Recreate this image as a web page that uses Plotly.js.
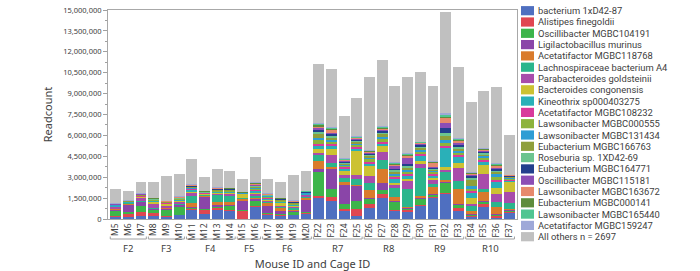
<!DOCTYPE html>
<html><head><meta charset="utf-8">
<script src="https://cdn.plot.ly/plotly-3.0.1.min.js"></script>
<style>html,body{margin:0;padding:0;background:#fff}#chart{width:700px;height:271px}</style>
</head><body><div id="chart"></div>
<script>
// ---- categories ----
const mouseIds = ["M5","M6","M7","M8","M9","M10","M11","M12","M13","M14","M15","M16","M17","M18","M19","M20",
  "F22","F23","F24","F25","F26","F27","F28","F29","F30","F31","F32","F33","F34","F35","F36","F37"];
const cageIds = ["F2","F2","F2","F3","F3","F3","F4","F4","F4","F4","F5","F5","F6","F6","F6","F6",
  "R7","R7","R7","R7","R8","R8","R8","R8","R9","R9","R9","R9","R10","R10","R10","R10"];
const cageGroups = ["F2","F3","F4","F5","F6","R7","R8","R9","R10"];

const seriesNames = ["bacterium 1xD42-87","Alistipes finegoldii","Oscillibacter MGBC104191","Ligilactobacillus murinus",
  "Acetatifactor MGBC118768","Lachnospiraceae bacterium A4","Parabacteroides goldsteinii","Bacteroides congonensis",
  "Kineothrix sp000403275","Acetatifactor MGBC108232","Lawsonibacter MGBC000555","Lawsonibacter MGBC131434",
  "Eubacterium MGBC166763","Roseburia sp. 1XD42-69","Eubacterium MGBC164771","Oscillibacter MGBC115181",
  "Lawsonibacter MGBC163672","Eubacterium MGBC000141","Lawsonibacter MGBC165440","Acetatifactor MGBC159247",
  "All others n = 2697"];
const seriesColors = ["#4f6fc0","#e04651","#3db54a","#8a45a8","#d97b2c","#2bb58c","#a84cab","#ccc232",
  "#2ab0b8","#d93a9c","#8db33b","#2e9dd4","#8f9f3b","#6cc48f","#233f8d","#8c4db5",
  "#e7896c","#5e8c3c","#50c592","#9ea8d8","#c0c0c0"];

// ---- series values (readcount per mouse) ----
const bacterium1xD4287 = [144000,144000,215000,215000,179000,287000,646000,359000,646000,574000,36000,861000,287000,215000,287000,359000,1507000,1292000,574000,215000,789000,1507000,574000,502000,933000,1507000,1794000,574000,144000,861000,108000,431000];
const alistipesFinegoldii = [72000,251000,287000,215000,36000,36000,72000,287000,108000,72000,574000,72000,72000,72000,36000,72000,144000,287000,144000,502000,287000,287000,72000,144000,72000,72000,72000,215000,72000,215000,72000,72000];
const oscillibacter104191 = [359000,72000,431000,215000,431000,574000,72000,72000,72000,287000,36000,359000,72000,72000,215000,72000,1722000,574000,359000,574000,359000,287000,574000,72000,431000,144000,718000,215000,72000,144000,72000,72000];
const ligilactobacillusMurinus = [72000,574000,287000,72000,72000,108000,72000,861000,144000,72000,646000,108000,502000,215000,72000,861000,215000,1435000,1364000,1077000,108000,502000,72000,72000,72000,72000,72000,72000,72000,72000,72000,72000];
const acetatifactor118768 = [36000,36000,36000,36000,36000,36000,287000,72000,215000,215000,144000,108000,215000,215000,72000,179000,574000,144000,215000,72000,574000,1005000,287000,72000,144000,502000,144000,1077000,215000,646000,502000,72000];
const lachnospiraceaeA4 = [36000,36000,57000,36000,36000,36000,502000,36000,502000,431000,36000,108000,72000,72000,108000,72000,431000,287000,287000,431000,502000,646000,646000,1292000,2010000,215000,574000,574000,359000,215000,359000,431000];
const parabacteroidesGoldsteinii = [108000,36000,215000,287000,108000,144000,215000,36000,72000,108000,36000,144000,72000,72000,72000,72000,144000,574000,215000,287000,502000,574000,215000,574000,287000,287000,144000,933000,144000,1077000,574000,789000];
const bacteroidesCongonensis = [36000,22000,36000,179000,144000,72000,72000,36000,72000,72000,251000,108000,72000,215000,72000,36000,287000,431000,287000,1722000,718000,431000,144000,144000,215000,144000,215000,359000,431000,646000,431000,718000];
const kineothrix000403275 = [36000,22000,36000,36000,36000,36000,108000,36000,72000,72000,22000,108000,72000,72000,57000,36000,215000,215000,144000,144000,144000,144000,287000,215000,359000,144000,1364000,431000,359000,215000,431000,72000];
const acetatifactor108232 = [36000,22000,36000,36000,36000,36000,72000,36000,57000,57000,22000,72000,72000,36000,36000,36000,144000,144000,144000,108000,144000,144000,108000,144000,144000,144000,144000,144000,144000,144000,144000,72000];
const lawsonibacter000555 = [22000,14000,22000,22000,36000,36000,57000,22000,36000,36000,14000,72000,57000,36000,36000,22000,287000,144000,72000,144000,144000,215000,108000,144000,144000,108000,215000,144000,144000,144000,215000,72000];
const lawsonibacter131434 = [22000,14000,22000,22000,22000,36000,57000,22000,36000,36000,14000,72000,57000,36000,36000,22000,144000,144000,72000,108000,108000,108000,108000,144000,144000,108000,215000,144000,215000,108000,215000,72000];
const eubacterium166763 = [22000,14000,22000,22000,22000,22000,36000,22000,36000,36000,14000,72000,36000,36000,36000,22000,287000,144000,72000,108000,108000,215000,144000,144000,108000,72000,287000,144000,431000,108000,144000,36000];
const roseburia1XD4269 = [22000,14000,22000,22000,22000,22000,36000,22000,36000,36000,14000,72000,36000,22000,36000,22000,144000,108000,72000,72000,72000,108000,144000,144000,108000,72000,215000,108000,144000,108000,108000,36000];
const eubacterium164771 = [14000,14000,14000,14000,14000,22000,36000,14000,36000,22000,14000,57000,22000,22000,36000,22000,144000,144000,72000,72000,108000,108000,108000,144000,108000,72000,359000,144000,144000,108000,108000,36000];
const oscillibacter115181 = [22000,14000,22000,22000,22000,36000,36000,22000,36000,36000,14000,72000,36000,36000,36000,22000,108000,108000,72000,72000,72000,72000,215000,431000,72000,72000,359000,144000,72000,72000,108000,36000];
const lawsonibacter163672 = [14000,14000,22000,14000,14000,22000,36000,14000,22000,22000,14000,57000,22000,22000,22000,22000,108000,179000,57000,72000,72000,72000,72000,144000,72000,287000,359000,144000,72000,72000,108000,36000];
const eubacterium000141 = [14000,7000,14000,14000,14000,22000,22000,14000,22000,22000,7000,36000,22000,14000,22000,14000,108000,72000,36000,36000,36000,72000,57000,72000,36000,36000,72000,72000,36000,36000,72000,22000];
const lawsonibacter165440 = [14000,7000,22000,14000,14000,22000,22000,14000,22000,22000,7000,36000,22000,14000,22000,14000,72000,72000,36000,36000,36000,72000,72000,72000,36000,36000,108000,72000,36000,36000,72000,22000];
const acetatifactor159247 = [14000,7000,22000,14000,14000,22000,22000,14000,22000,22000,7000,36000,22000,14000,22000,14000,108000,108000,57000,72000,72000,72000,57000,72000,36000,36000,144000,108000,72000,72000,72000,22000];
const allOthers = [1041000,689000,818000,1148000,1780000,1608000,1830000,1005000,1328000,1199000,947000,1823000,1033000,1148000,1830000,1457000,4234000,4163000,3043000,2763000,5239000,4773000,5483000,5455000,5024000,5419000,7285000,5096000,5024000,4091000,5490000,2842000];

const yTickVals = [0,1500000,3000000,4500000,6000000,7500000,9000000,10500000,12000000,13500000,15000000];

const seriesValues = [bacterium1xD4287, alistipesFinegoldii, oscillibacter104191, ligilactobacillusMurinus,
  acetatifactor118768, lachnospiraceaeA4, parabacteroidesGoldsteinii, bacteroidesCongonensis,
  kineothrix000403275, acetatifactor108232, lawsonibacter000555, lawsonibacter131434,
  eubacterium166763, roseburia1XD4269, eubacterium164771, oscillibacter115181,
  lawsonibacter163672, eubacterium000141, lawsonibacter165440, acetatifactor159247, allOthers];

// ---- layout geometry (pixels) ----
const W = 700, H = 271, L = 108, R = 517, T = 10, B = 219;
const px2x = px => (px - L) / (R - L);
const py2y = py => (B - py) / (B - T);
const FONT = '"Segoe UI", "Noto Sans", "Open Sans", sans-serif';
const LEGFONT = 'Roboto, "Segoe UI", sans-serif';
const TXT = '#404040';

const traces = seriesNames.map((name, i) => ({
  type: 'bar', name: name, x: mouseIds, y: seriesValues[i],
  marker: {color: seriesColors[i], line: {width: 0}},
  showlegend: false, hoverinfo: 'x+y+name'
}));

const shapes = [];
const annotations = [];

// cage group brackets under the mouse labels
cageGroups.forEach(g => {
  const idx = cageIds.map((c, i) => c === g ? i : -1).filter(i => i >= 0);
  const a = idx[0] - 0.42, b = idx[idx.length - 1] + 0.42;
  const yl = py2y(239), yt = py2y(236.5);
  shapes.push({type: 'path', xref: 'x', yref: 'paper',
    path: `M ${a} ${yt} L ${a} ${yl} L ${b} ${yl} L ${b} ${yt}`,
    line: {color: '#a0a0a0', width: 1}});
  annotations.push({xref: 'x', yref: 'paper', x: (idx[0] + idx[idx.length - 1]) / 2, y: py2y(248),
    text: g, showarrow: false, xanchor: 'center', yanchor: 'middle', borderpad: 0,
    font: {family: FONT, size: 9.5, color: TXT}});
});

// legend drawn as swatches + text (rows are 11.3 px apart)
seriesNames.forEach((name, i) => {
  const cy = 10.7 + i * 11.3;
  shapes.push({type: 'rect', xref: 'paper', yref: 'paper',
    x0: px2x(521), x1: px2x(534), y0: py2y(cy + 4.6), y1: py2y(cy - 4.6),
    fillcolor: seriesColors[i], line: {width: 0}});
  annotations.push({xref: 'paper', yref: 'paper', x: px2x(537), y: py2y(cy),
    text: name, showarrow: false, xanchor: 'left', yanchor: 'middle',
    borderpad: 0, valign: 'middle',
    font: {family: LEGFONT, size: 9.4, color: TXT}});
});

const layout = {
  width: W, height: H,
  margin: {l: L, r: W - R, t: T, b: H - B, pad: 0},
  paper_bgcolor: '#fff', plot_bgcolor: '#fff',
  barmode: 'stack', bargap: 0.14,
  font: {family: FONT, color: TXT},
  xaxis: {
    type: 'category', range: [-0.6, 31.62], tickangle: -90,
    tickfont: {family: FONT, size: 8.5, color: TXT},
    ticks: '', showline: true, linecolor: '#a8a8a8', linewidth: 1, mirror: true,
    showgrid: false, zeroline: false, automargin: false,
    title: {text: 'Mouse ID and Cage ID', font: {family: FONT, size: 11, color: TXT}, standoff: 22}
  },
  yaxis: {
    range: [0, 15000000], tickvals: yTickVals, tickformat: ',d',
    tickfont: {family: FONT, size: 7.5, color: TXT},
    ticks: 'outside', ticklen: 4, tickcolor: '#a0a0a0',
    minor: {dtick: 750000, tick0: 0, ticks: 'outside', ticklen: 2, tickcolor: '#a0a0a0'},
    showline: true, linecolor: '#a8a8a8', linewidth: 1, mirror: true,
    showgrid: false, zeroline: false, automargin: false,
    title: {text: 'Readcount', font: {family: FONT, size: 11, color: TXT}, standoff: 8}
  },
  shapes: shapes,
  annotations: annotations
};

Plotly.newPlot('chart', traces, layout, {displayModeBar: false, staticPlot: true});
</script>
</body></html>
